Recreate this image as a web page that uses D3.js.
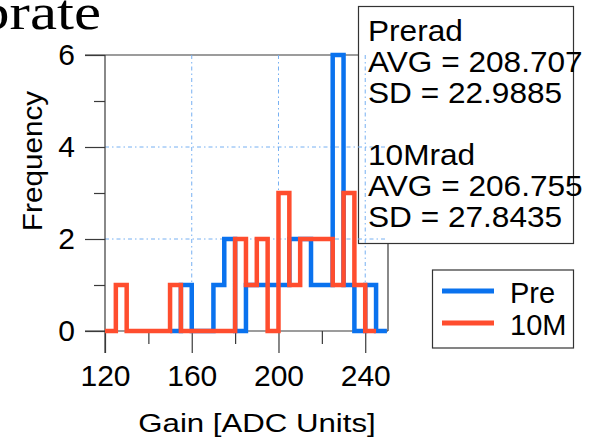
<!DOCTYPE html>
<html>
<head>
<meta charset="utf-8">
<script src="https://cdn.jsdelivr.net/npm/d3@7"></script>
<style>
  html, body { margin: 0; padding: 0; background: #fff; }
  svg { display: block; }
  text { font-family: "Liberation Sans", Arial, sans-serif; fill: #000; }
</style>
</head>
<body>
<svg id="chart" width="604" height="442"></svg>
<script>
// Histogram bins: width 5 ADC units, counts per bin
const binWidth = 5;
const preStart = 150;
const preCounts = [0, 1, 0, 0, 1, 2, 0, 1, 1, 1, 1, 2, 2, 1, 1, 6, 1, 0, 1, 0];
const radStart = 120;
const radCounts = [0, 1, 0, 0, 0, 0, 1, 0, 0, 0, 0, 0, 2, 1, 2, 0, 3, 1, 2, 2, 2, 1, 3, 1, 0];

const xTicks = [120, 160, 200, 240];
const xMinorTicks = [140, 180, 220];
const yTicks = [0, 2, 4, 6];
const yMinorTicks = [1, 3, 5];
const xGrid = [160, 200, 240];
const yGrid = [2, 4];

const statsLines = ["Prerad", "AVG = 208.707", "SD = 22.9885", "", "10Mrad", "AVG = 206.755", "SD = 27.8435"];
const legendNames = ["Pre", "10M"];
const colors = ["#0a72ee", "#ff4d2e"];

const svg = d3.select("#chart");

const plotL = 105, plotR = 388, plotT = 55, plotB = 331;
const x = d3.scaleLinear().domain([120, 250.5]).range([plotL, plotR]);
const y = d3.scaleLinear().domain([0, 6]).range([plotB, plotT]);

const axisColor = "#3a3a3a";

// Title fragment (serif, slightly widened)
svg.append("text")
  .attr("transform", "translate(101,29) scale(1.22,1)")
  .attr("text-anchor", "end")
  .style("font-family", "'Liberation Serif', 'Times New Roman', serif")
  .style("font-size", "50px")
  .text("brate");

// Plot frame: top edge and right edge
svg.append("line").attr("x1", 85).attr("x2", plotR).attr("y1", plotT).attr("y2", plotT)
  .attr("stroke", axisColor).attr("stroke-width", 1.2);
svg.append("line").attr("x1", plotR).attr("x2", plotR).attr("y1", plotT).attr("y2", plotB)
  .attr("stroke", axisColor).attr("stroke-width", 1.2);

// Stats box (white fill covers the frame behind it)
svg.append("rect")
  .attr("x", 358.5).attr("y", 6.5).attr("width", 215).attr("height", 237)
  .attr("fill", "#fff").attr("stroke", "#333").attr("stroke-width", 1.2);

// Grid lines, clipped to plot area
svg.append("clipPath").attr("id", "plotClip")
  .append("rect").attr("x", plotL).attr("y", plotT).attr("width", plotR - plotL).attr("height", plotB - plotT);
const grid = svg.append("g").attr("clip-path", "url(#plotClip)")
  .attr("stroke", "#76b0f2").attr("stroke-width", 1).attr("stroke-dasharray", "4,3,1.5,3");
grid.selectAll("line.vx").data(xGrid).join("line")
  .attr("x1", d => x(d)).attr("x2", d => x(d)).attr("y1", plotT).attr("y2", plotB);
grid.selectAll("line.hy").data(yGrid).join("line")
  .attr("x1", plotL).attr("x2", plotR).attr("y1", d => y(d)).attr("y2", d => y(d));

// X axis (ticks pointing down, long majors, short minors)
const xAxis = d3.axisBottom(x).tickValues(xTicks).tickSize(22).tickPadding(12).tickFormat(d3.format("d"));
const gx = svg.append("g").attr("transform", `translate(0,${plotB})`).call(xAxis);
gx.select(".domain").attr("d", `M85,0H${plotR}`).attr("stroke", axisColor).attr("stroke-width", 1.2);
gx.selectAll(".tick line").attr("stroke", axisColor).attr("stroke-width", 1.2);
gx.selectAll(".tick text").style("font-size", "30px").style("font-family", "'Liberation Sans', Arial, sans-serif");
svg.append("g").attr("transform", `translate(0,${plotB})`)
  .call(d3.axisBottom(x).tickValues(xMinorTicks).tickSize(13).tickFormat(""))
  .call(g => g.select(".domain").remove())
  .selectAll(".tick line").attr("stroke", axisColor).attr("stroke-width", 1.2);

// Y axis (ticks pointing left)
const yAxis = d3.axisLeft(y).tickValues(yTicks).tickSize(20).tickPadding(10).tickFormat(d3.format("d"));
const gy = svg.append("g").attr("transform", `translate(${plotL},0)`).call(yAxis);
gy.select(".domain").attr("d", `M0,${plotT}V${plotB + 22}`).attr("stroke", axisColor).attr("stroke-width", 1.2);
gy.selectAll(".tick line").attr("stroke", axisColor).attr("stroke-width", 1.2);
gy.selectAll(".tick text").style("font-size", "30px").style("font-family", "'Liberation Sans', Arial, sans-serif");
svg.append("g").attr("transform", `translate(${plotL},0)`)
  .call(d3.axisLeft(y).tickValues(yMinorTicks).tickSize(11).tickFormat(""))
  .call(g => g.select(".domain").remove())
  .selectAll(".tick line").attr("stroke", axisColor).attr("stroke-width", 1.2);

// Axis titles (widened along their length)
svg.append("text")
  .attr("transform", "translate(257,432) scale(1.2,1)")
  .attr("text-anchor", "middle")
  .style("font-size", "26px")
  .text("Gain [ADC Units]");
svg.append("text")
  .attr("transform", "translate(42,161) rotate(-90) scale(1.1,1)")
  .attr("text-anchor", "middle")
  .style("font-size", "27px")
  .text("Frequency");

// Step histograms
function stepPoints(start, counts) {
  const pts = counts.map((c, i) => [start + i * binWidth, c]);
  pts.push([start + counts.length * binWidth, counts[counts.length - 1]]);
  return pts;
}
const stepLine = d3.line().x(d => x(d[0])).y(d => y(d[1])).curve(d3.curveStepAfter);
[[preStart, preCounts], [radStart, radCounts]].forEach(([start, counts], i) => {
  svg.append("path")
    .attr("d", stepLine(stepPoints(start, counts)))
    .attr("fill", "none")
    .attr("stroke", colors[i])
    .attr("stroke-width", 4.5)
    .attr("stroke-linejoin", "miter")
    .attr("stroke-linecap", "butt");
});

// Stats text, clipped at its right side
svg.append("clipPath").attr("id", "statsClip")
  .append("rect").attr("x", 358).attr("y", 0).attr("width", 224).attr("height", 250);
const stats = svg.append("g").attr("clip-path", "url(#statsClip)");
stats.selectAll("text").data(statsLines).join("text")
  .attr("transform", (d, i) => `translate(368,${41 + i * 31}) scale(1.09,1)`)
  .style("font-size", "29px")
  .text(d => d);

// Legend
const legend = svg.append("g");
legend.append("rect")
  .attr("x", 432.5).attr("y", 270).attr("width", 141).attr("height", 78)
  .attr("fill", "#fff").attr("stroke", "#333").attr("stroke-width", 1.2);
legendNames.forEach((name, i) => {
  const ly = 291 + i * 32;
  legend.append("line")
    .attr("x1", 442).attr("x2", 494).attr("y1", ly).attr("y2", ly)
    .attr("stroke", colors[i]).attr("stroke-width", 5);
  legend.append("text")
    .attr("x", 510).attr("y", ly + 12)
    .style("font-size", "29px")
    .text(name);
});
</script>
</body>
</html>
